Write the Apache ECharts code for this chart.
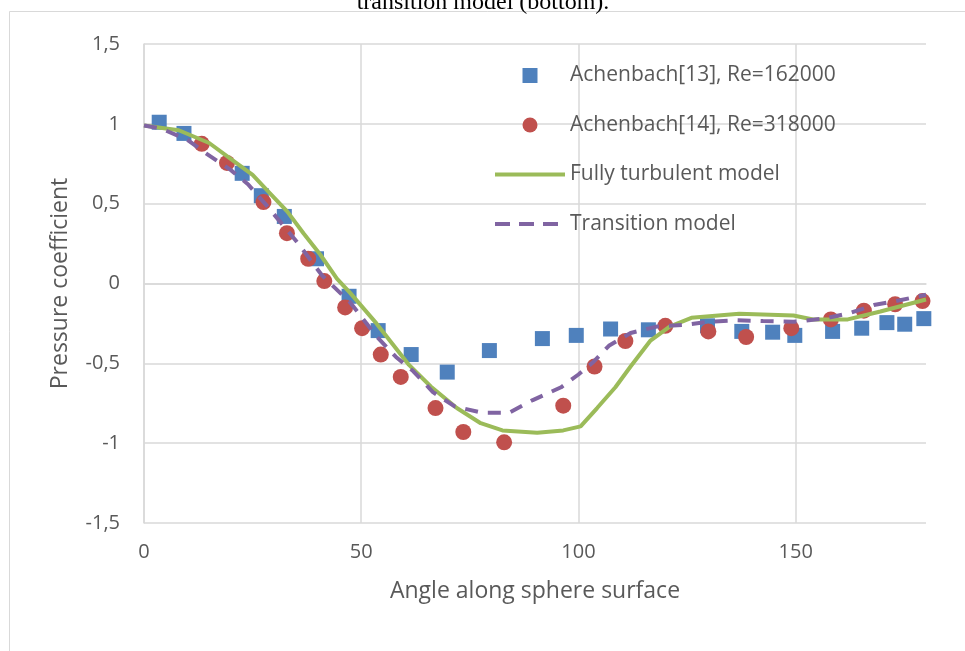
<!DOCTYPE html>
<html>
<head>
<meta charset="utf-8">
<script src="https://cdn.jsdelivr.net/npm/echarts@6/dist/echarts.min.js"></script>
<style>
  html, body { margin: 0; padding: 0; background: #fff; }
  #main { width: 965px; height: 651px; }
</style>
</head>
<body>
<div id="main"></div>
<script>
// Achenbach[13], Re=162000 : [angle, Cp]
var achenbach13 = [
  [3.5, 1.01], [9.2, 0.94], [22.6, 0.69], [27.0, 0.55], [32.3, 0.42],
  [39.7, 0.155], [47.2, -0.08], [53.9, -0.295], [61.5, -0.445], [69.8, -0.555],
  [79.5, -0.42], [91.7, -0.345], [99.5, -0.325], [107.4, -0.285], [116.1, -0.29],
  [129.7, -0.265], [137.6, -0.30], [144.7, -0.305], [149.8, -0.325], [158.5, -0.30],
  [165.2, -0.28], [171.0, -0.245], [175.1, -0.255], [179.5, -0.22]
];

// Achenbach[14], Re=318000
var achenbach14 = [
  [13.3, 0.875], [19.1, 0.755], [27.5, 0.51], [32.9, 0.315], [37.8, 0.155],
  [41.5, 0.015], [46.3, -0.15], [50.2, -0.28], [54.5, -0.445], [59.1, -0.585],
  [67.1, -0.78], [73.5, -0.93], [82.9, -0.995], [96.5, -0.765], [103.7, -0.52],
  [110.8, -0.36], [120.0, -0.265], [129.9, -0.30], [138.6, -0.335], [149.0, -0.28],
  [158.1, -0.225], [165.7, -0.17], [172.9, -0.13], [179.2, -0.11]
];

// Fully turbulent model
var turbulent = [
  [0, 0.99], [8, 0.96], [15, 0.88], [20.5, 0.77], [25, 0.68], [29, 0.565],
  [33, 0.45], [36.7, 0.315], [40.6, 0.18], [44.4, 0.03], [47.5, -0.06],
  [53.5, -0.25], [61, -0.51], [66, -0.645], [72, -0.78], [77.5, -0.875],
  [82.5, -0.92], [90.5, -0.935], [96.5, -0.92], [100.5, -0.895], [104.3, -0.78],
  [108.5, -0.65], [112, -0.52], [116.5, -0.36], [121, -0.27], [126, -0.215],
  [137, -0.19], [149.5, -0.2], [154, -0.225], [162, -0.225], [169.5, -0.175],
  [180, -0.1]
];

// Transition model
var transition = [
  [0, 0.99], [4, 0.97], [10, 0.9], [14, 0.82], [20, 0.71], [24, 0.62],
  [28.5, 0.48], [35.5, 0.25], [41, 0.05], [47.5, -0.12], [53.5, -0.33],
  [58, -0.46], [62, -0.55], [66.5, -0.68], [71.5, -0.77], [78, -0.81],
  [84, -0.81], [89.5, -0.73], [96, -0.65], [100, -0.57], [103.5, -0.49],
  [107, -0.39], [112, -0.31], [118, -0.27], [124, -0.26], [130, -0.24],
  [136.5, -0.23], [142.5, -0.235], [149.5, -0.24], [156.5, -0.22],
  [162.5, -0.185], [168, -0.135], [174, -0.105], [180, -0.07]
];

var yTicks = [-1.5, -1, -0.5, 0, 0.5, 1, 1.5];
var xTicks = [0, 50, 100, 150];

var chart = echarts.init(document.getElementById('main'));
var fontName = '"Open Sans", sans-serif';
var textGrey = '#595959';
var gridGrey = '#d9d9d9';

chart.setOption({
  animation: false,
  backgroundColor: '#fff',
  graphic: [
    {
      type: 'rect',
      shape: { x: 9.5, y: 11.5, width: 1000, height: 700 },
      style: { fill: 'none', stroke: '#d9d9d9', lineWidth: 1 },
      z: -1
    },
    {
      type: 'text',
      style: {
        text: 'transition model (bottom).',
        x: 483, y: 15,
        align: 'center', verticalAlign: 'bottom',
        font: '24px "Liberation Serif", serif',
        fill: '#000'
      }
    }
  ],
  grid: { left: 144, right: 39, top: 44, bottom: 128 },
  legend: {
    orient: 'vertical',
    left: 488,
    top: 58.5,
    itemWidth: 70,
    itemHeight: 15,
    itemGap: 25.5,
    textStyle: { fontFamily: fontName, fontSize: 21, color: textGrey, lineHeight: 24 },
    data: [
      { name: 'Achenbach[13], Re=162000', icon: 'path://M0,0L10,0L10,10L0,10Z' },
      { name: 'Achenbach[14], Re=318000', icon: 'circle' },
      {
        name: 'Fully turbulent model',
        itemStyle: { opacity: 0 },
        lineStyle: { color: '#9bbb59', width: 4 }
      },
      {
        name: 'Transition model',
        itemStyle: { opacity: 0 },
        lineStyle: { color: '#8064a2', width: 4, type: [15, 9] }
      }
    ]
  },
  xAxis: {
    type: 'value',
    min: 0, max: 180, interval: 50,
    name: 'Angle along sphere surface',
    nameLocation: 'middle',
    nameGap: 57,
    nameTextStyle: { fontFamily: fontName, fontSize: 23, color: textGrey },
    axisLine: { show: true, lineStyle: { color: gridGrey, width: 1.5 } },
    axisTick: { show: false },
    axisLabel: {
      fontFamily: fontName, fontSize: 20, color: textGrey, margin: 19,
      showMaxLabel: false,
      formatter: function (v) { return xTicks.indexOf(v) >= 0 ? String(v) : ''; }
    },
    splitLine: { show: true, showMaxLine: false, lineStyle: { color: gridGrey, width: 1.5 } }
  },
  yAxis: {
    type: 'value',
    min: -1.5, max: 1.5, interval: 0.5,
    name: 'Pressure coefficient',
    nameLocation: 'middle',
    nameGap: 72,
    nameTextStyle: { fontFamily: fontName, fontSize: 23, color: textGrey },
    axisLine: { show: true, lineStyle: { color: gridGrey, width: 1.5 } },
    axisTick: { show: false },
    axisLabel: {
      fontFamily: fontName, fontSize: 20, color: textGrey, margin: 24,
      formatter: function (v) {
        return yTicks.indexOf(v) >= 0 ? String(v).replace('.', ',') : '';
      }
    },
    splitLine: { show: true, lineStyle: { color: gridGrey, width: 1.5 } }
  },
  series: [
    {
      name: 'Achenbach[13], Re=162000',
      type: 'scatter',
      symbol: 'rect',
      symbolSize: 15,
      itemStyle: { color: '#4f81bd', opacity: 1 },
      data: achenbach13,
      z: 3
    },
    {
      name: 'Achenbach[14], Re=318000',
      type: 'scatter',
      symbol: 'circle',
      symbolSize: 16,
      itemStyle: { color: '#c0504d', opacity: 1 },
      data: achenbach14,
      z: 4
    },
    {
      name: 'Fully turbulent model',
      type: 'line',
      showSymbol: false,
      symbol: 'none',
      lineStyle: { color: '#9bbb59', width: 4 },
      itemStyle: { color: '#9bbb59' },
      data: turbulent,
      z: 5
    },
    {
      name: 'Transition model',
      type: 'line',
      showSymbol: false,
      symbol: 'none',
      lineStyle: { color: '#8064a2', width: 4, type: [13, 10] },
      itemStyle: { color: '#8064a2' },
      data: transition,
      z: 6
    }
  ]
});
</script>
</body>
</html>
